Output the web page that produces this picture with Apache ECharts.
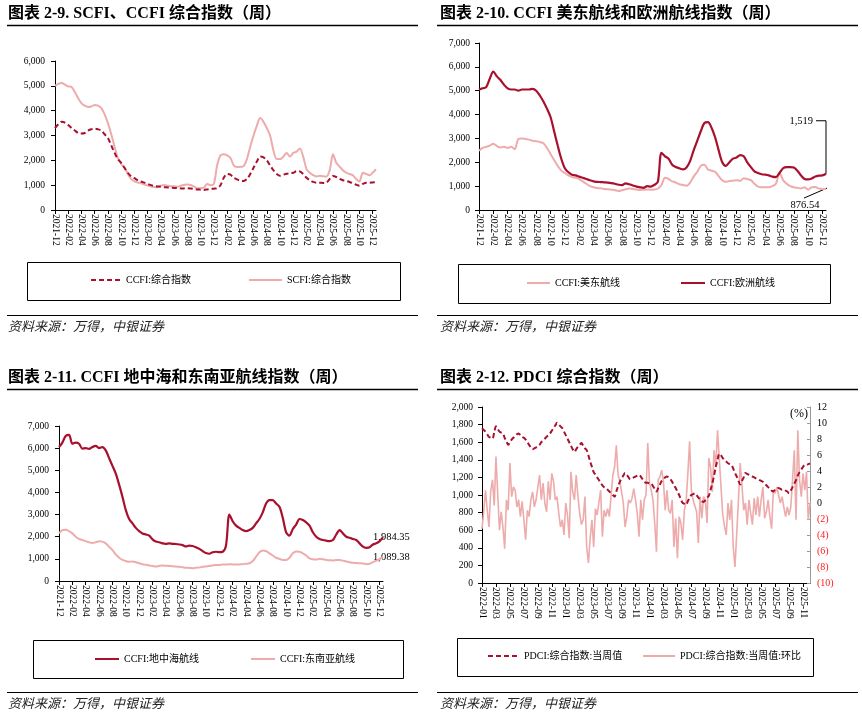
<!DOCTYPE html>
<html><head><meta charset="utf-8">
<script src="https://cdn.jsdelivr.net/npm/echarts@6/dist/echarts.min.js"></script>
<style>html,body{margin:0;padding:0;background:#fff;}#c{width:862px;height:715px;}</style>
</head><body><div id="c"></div>
<script>
const SERIF = '"Liberation Serif","Times New Roman","Noto Sans CJK SC",serif';
const DARK = '#A8102E', LIGHT = '#EEABAB';

function monthList(y0,m0,y1,m1){const r=[];let y=y0,m=m0;while(y<y1||(y===y1&&m<=m1)){r.push(y+'-'+String(m).padStart(2,'0'));m++;if(m>12){m=1;y++;}}return r;}
// categories: half-monthly for 2021-12..2025-12, weekly slots for PDCI
const semiMonthCats = [];
for (const mm of monthList(2021,12,2025,12)) semiMonthCats.push(mm+'-01', mm+'-16');
const pdciWeeks = [];
for (const mm of monthList(2022,1,2025,11)) for (const d of ['01','08','15','22']) pdciWeeks.push(mm+'-'+d);
pdciWeeks.push('2025-12-01');

// ---- chart 2-9 ----
const scfi = [5000,5080, 5110,5050, 4980,4950, 4750,4500, 4300,4200, 4150,4170, 4230,4200, 4100,3850, 3500,3050, 2550,2100, 1850,1700, 1450,1250, 1150,1110,
 1080,1030, 980,950, 930,920, 980,1010, 980,960, 960,940, 980,1010, 1030,1010, 950,880, 880,900, 1050,1000, 1050,1800,
 2200,2250, 2200,2100, 1800,1730, 1740,1770, 2050,2550, 3000,3400, 3700,3550, 3300,3000, 2400,2050, 2050,2150, 2300,2150, 2300,2350,
 2480,2150, 1650,1500, 1400,1350, 1380,1360, 1350,1600, 2240,1900, 1750,1600, 1500,1450, 1400,1250, 1150,1500, 1450,1400, 1500,1650];
const ccfi = [3300,3450, 3550,3520, 3420,3300, 3200,3100, 3080,3100, 3200,3250, 3270,3250, 3200,3050, 2900,2600, 2300,2050, 1900,1700, 1500,1350, 1280,1200,
 1150,1100, 1050,1000, 970,950, 940,920, 910,900, 890,880, 870,870, 880,870, 850,830, 820,810, 830,850, 860,880,
 1000,1300, 1450,1420, 1300,1230, 1180,1170, 1250,1450, 1700,1950, 2150,2120, 2000,1800, 1600,1450, 1380,1420, 1460,1480, 1500,1560,
 1550,1450, 1300,1200, 1130,1100, 1100,1090, 1100,1250, 1370,1330, 1250,1200, 1170,1130, 1080,1020, 980,1050, 1100,1100, 1110,1120];

// ---- chart 2-10 ----
const usEast = [2480,2600, 2650,2700, 2780,2680, 2620,2650, 2600,2650, 2550,2980, 3000,2980, 2950,2900, 2880,2850, 2800,2600, 2350,2100, 1850,1650, 1550,1450,
 1380,1350, 1300,1200, 1100,1000, 950,920, 910,880, 870,850, 830,800, 830,870, 900,880, 860,840, 850,860, 850,860,
 900,1050, 1350,1300, 1200,1150, 1080,1050, 1020,1150, 1400,1600, 1850,1900, 1700,1650, 1600,1420, 1250,1180, 1220,1230, 1250,1220,
 1330,1300, 1250,1100, 980,950, 950,950, 1000,1100, 1550,1250, 1100,1000, 950,930, 900,950, 850,950, 960,900, 880,876.54];
const europe = [5050,5100, 5150,5500, 5800,5600, 5450,5250, 5100,5050, 5050,5000, 5050,5050, 5050,5080, 5000,4800, 4550,4250, 3900,3300, 2700,2150, 1750,1580,
 1480,1450, 1400,1350, 1300,1250, 1200,1180, 1170,1160, 1150,1130, 1100,1060, 1040,1120, 1080,1030, 980,950, 930,1000, 980,1050,
 1180,2400, 2250,2150, 1900,1800, 1750,1700, 1780,2050, 2500,2900, 3300,3650, 3680,3450, 3050,2500, 2000,1850, 2000,2150, 2200,2300,
 2250,2000, 1800,1620, 1550,1500, 1480,1450, 1400,1380, 1550,1750, 1800,1800, 1780,1650, 1450,1300, 1280,1320, 1400,1440, 1450,1519];

// ---- chart 2-11 ----
const med = [6050,6250, 6550,6600, 6200,6250, 6200,5980, 6000,5970, 6050,6100, 6000,6050, 5900,5550, 5200,4850, 4350,3800, 3200,2800, 2600,2400, 2250,2150,
 2100,2050, 1880,1780, 1750,1700, 1680,1700, 1680,1670, 1650,1620, 1560,1600, 1580,1520, 1450,1350, 1260,1230, 1300,1320, 1300,1320,
 1600,3000, 2700,2500, 2400,2300, 2250,2300, 2400,2600, 2800,3100, 3500,3650, 3650,3500, 3350,2850, 2200,2050, 2350,2550, 2800,2750,
 2650,2500, 2200,2000, 1900,1850, 1820,1800, 1850,2100, 2300,2150, 2000,1950, 1900,1850, 1700,1550, 1500,1520, 1650,1700, 1800,1984.35];
const seAsia = [2150,2300, 2320,2250, 2150,2000, 1900,1850, 1800,1750, 1720,1750, 1800,1780, 1700,1550, 1400,1200, 1050,950, 900,870, 880,850, 800,760,
 730,700, 680,650, 680,700, 690,680, 670,650, 640,620, 600,590, 580,600, 610,640, 660,680, 700,720, 720,750,
 740,760, 750,740, 750,760, 780,800, 900,1100, 1300,1380, 1350,1250, 1150,1050, 1000,950, 950,1050, 1250,1330, 1320,1250,
 1150,1020, 980,970, 1000,980, 950,940, 930,950, 950,920, 880,850, 820,810, 800,790, 760,780, 850,920, 1000,1089.38];

// ---- chart 2-12 ----
const pdciIndex = [1760,1740,1720,1690,1660,1650,1640,1710,1780,1750,
 1720,1710,1700,1650,1610,1570,1600,1630,1650,1670,
 1690,1700,1680,1660,1650,1630,1600,1570,1540,1520,
 1530,1540,1550,1570,1600,1620,1640,1660,1680,1700,
 1730,1760,1790,1820,1800,1780,1760,1720,1680,1640,
 1600,1560,1520,1490,1520,1550,1570,1590,1560,1530,
 1510,1450,1380,1320,1260,1230,1200,1170,1140,1110,
 1090,1080,1060,1040,1020,1000,980,1040,1100,1150,
 1190,1220,1250,1230,1200,1180,1190,1200,1210,1220,
 1230,1210,1180,1150,1140,1140,1130,1130,1100,1070,
 1040,1080,1120,1160,1180,1200,1210,1200,1180,1150,
 1110,1080,1040,1000,950,910,900,890,930,970,
 1000,1010,1020,1000,970,950,930,920,940,970,
 990,1060,1130,1220,1320,1400,1470,1450,1420,1400,
 1380,1360,1350,1340,1300,1250,1210,1160,1120,1160,
 1200,1250,1240,1230,1220,1210,1200,1190,1180,1170,
 1160,1150,1130,1110,1090,1070,1050,1040,1060,1070,
 1080,1070,1060,1060,1050,1040,1020,1050,1090,1130,
 1170,1220,1260,1290,1320,1340,1340,1350,1360];
const pdciWoW = [-3.2,-1.0,1.6,-0.9,-3.0,1.5,2.9,-0.3,5.8,1.2,
 -3.4,-1.1,-3.0,-5.7,0.4,-0.9,5.0,0.8,2.0,1.6,
 -0.5,0.4,-1.7,0.2,-2.1,-4.6,-0.9,-1.7,0.4,1.4,
 -0.5,0.4,0.4,3.5,0.4,2.5,0,-1.1,2.7,0.4,
 3.7,2.7,0.4,0.8,-1.3,-3.0,-2.1,-4.0,0,-1.5,
 -4.4,3.9,1.4,0.4,3.5,0.8,-1.3,-2.7,-2.1,0.8,
 -5.5,-7.5,-4.4,-2.1,-5.5,-0.7,-1.5,-1.5,1.6,-4.2,
 -0.9,-1.7,-0.7,-1.7,-1.9,3.5,4.5,7.2,3.5,2.7,
 1.4,0,-3.0,-1.7,0.4,0,0.6,1.8,0.4,-1.3,
 -4.2,0.4,-2.1,0.4,1.0,7.5,2.5,1.6,0.4,-2.5,
 -6.1,2.9,3.3,4.1,2.7,-0.9,1.6,-0.9,-1.3,0.4,
 -5.5,-1.9,-6.9,-1.7,-2.5,-4.6,-0.9,0.2,3.7,7.7,
 1.6,0.4,0.4,-1.1,-5.0,0.8,-1.9,0.8,0.4,-2.5,
 5.6,4.5,1.4,6.6,4.5,9.1,9.1,2.0,-1.5,-2.9,
 -4.0,0,-2.1,0.4,-5.5,-8.0,-3.8,0.4,5.0,2.2,
 -0.9,0,-2.7,0.4,-1.3,-2.7,0.6,-1.5,0.8,-1.7,
 0.4,2.0,-1.9,-1.1,0.4,-1.7,-3.2,1.6,1.2,2.0,
 1.8,0,0.8,-0.5,-1.7,-0.5,-1.5,-0.5,2.9,6.6,
 -2.1,9.1,2.9,0.8,3.7,1.6,3.9,-2.1,0.0];

const fmtNum = v => v.toLocaleString('en-US',{maximumFractionDigits:2});

function catAxis(grid, data, step){
  return {type:'category', gridIndex:grid, data, boundaryGap:false,
    axisLine:{lineStyle:{color:'#000',width:1}},
    axisTick:{show:true, interval:(i)=>i%step===0, length:4, lineStyle:{color:'#000'}},
    axisLabel:{interval:(i)=>i%step===0, rotate:-90, margin:4, fontSize:9.5, color:'#000', fontFamily:SERIF, formatter:v=>v.slice(0,7)},
    splitLine:{show:false}};
}
function valAxis(grid, min, max, interval, margin){
  return {type:'value', gridIndex:grid, min, max, interval,
    axisLine:{show:true, lineStyle:{color:'#000'}},
    axisTick:{show:true, length:4, lineStyle:{color:'#000'}},
    axisLabel:{fontSize:9.5, color:'#000', fontFamily:SERIF, margin:margin, formatter:v=>v.toLocaleString('en-US')},
    splitLine:{show:false}};
}
function lineS(name, xi, yi, data, color, width, dashed, z, smooth){
  return {type:'line', name, xAxisIndex:xi, yAxisIndex:yi, data, symbol:'none', showSymbol:false, smooth:smooth, z,
    lineStyle:{color, width, type: dashed ? [5,3] : 'solid'}, itemStyle:{color}, emphasis:{disabled:true}, silent:true};
}
function leg(name, left, top, w){
  return {data:[name], left, top, itemWidth:w, itemHeight:12, padding:0, selectedMode:false,
    itemStyle:{opacity:0, borderWidth:0}, lineStyle:{opacity:1},
    textStyle:{fontSize:10, color:'#000', fontFamily:SERIF}};
}

const g = [];
function hline(x1,x2,y,w){ g.push({type:'line', shape:{x1,y1:y,x2,y2:y}, style:{stroke:'#000', lineWidth:w}, silent:true}); }
function txt(t,x,y,font,extra){ g.push({type:'text', x, y, style:Object.assign({text:t, font, fill:'#000', verticalAlign:'middle'}, extra||{}), silent:true}); }
function box(x,y,w,h){ g.push({type:'rect', shape:{x,y,width:w,height:h}, style:{fill:'none', stroke:'#000', lineWidth:1}, silent:true}); }

const TFONT = 'bold 16px "Liberation Serif","Noto Sans CJK SC",serif';
const SFONT = 'italic 13px "Noto Sans CJK SC",sans-serif';
txt('图表 2-9. SCFI、CCFI 综合指数（周）', 8, 14, TFONT);
txt('图表 2-10. CCFI 美东航线和欧洲航线指数（周）', 440, 14, TFONT);
txt('图表 2-11. CCFI 地中海和东南亚航线指数（周）', 8, 378, TFONT);
txt('图表 2-12. PDCI 综合指数（周）', 440, 378, TFONT);
hline(7,418,25.5,1.5); hline(437,858,25.5,1.5); hline(7,418,389.5,1.5); hline(437,858,389.5,1.5);
hline(7,418,315.5,1); hline(437,858,315.5,1); hline(7,418,692.5,1); hline(437,858,692.5,1);
txt('资料来源：万得，中银证券', 8, 326, SFONT, {fill:'#222'});
txt('资料来源：万得，中银证券', 440, 326, SFONT, {fill:'#222'});
txt('资料来源：万得，中银证券', 8, 703, SFONT, {fill:'#222'});
txt('资料来源：万得，中银证券', 440, 703, SFONT, {fill:'#222'});
box(27.5,262.5,373,38); box(458.5,264.5,372,39); box(33.5,640.5,370,38); box(457.5,638.5,356,38);
txt('(%)', 790, 414, '12px '+SERIF);

const chart = echarts.init(document.getElementById('c'), null, {renderer:'canvas'});
const rightAxis = {type:'value', gridIndex:3, position:'right', min:-10, max:12, interval:2,
  axisLine:{show:true, lineStyle:{color:'#999'}},
  axisTick:{show:true, inside:true, length:3, lineStyle:{color:'#999'}},
  axisLabel:{fontSize:10, color:'#000', fontFamily:SERIF, margin:7,
    formatter:v=> v<0 ? '{n|('+(-v)+')}' : String(v),
    rich:{n:{color:'#FF1A1A', fontSize:10, fontFamily:SERIF}}},
  splitLine:{show:false}};

chart.setOption({
  animation:false,
  textStyle:{fontFamily:SERIF},
  grid:[
    {left:55, top:61, width:321, height:149},
    {left:479, top:43, width:347, height:167},
    {left:59, top:426, width:324, height:155},
    {left:482, top:407, width:328, height:176}
  ],
  xAxis:[catAxis(0, semiMonthCats, 4), catAxis(1, semiMonthCats, 4), catAxis(2, semiMonthCats, 4), catAxis(3, pdciWeeks, 8)],
  yAxis:[valAxis(0,0,6000,1000,10), valAxis(1,0,7000,1000,9), valAxis(2,0,7000,1000,10), valAxis(3,0,2000,200,9), rightAxis],
  legend:[
    leg('CCFI:综合指数', 90, 275, 30), leg('SCFI:综合指数', 248, 275, 33),
    leg('CCFI:美东航线', 526, 278, 23), leg('CCFI:欧洲航线', 680, 278, 24),
    leg('CCFI:地中海航线', 94, 654, 24), leg('CCFI:东南亚航线', 250, 654, 24),
    leg('PDCI:综合指数:当周值', 487, 651, 31), leg('PDCI:综合指数:当周值:环比', 642, 651, 32)
  ],
  series:[
    lineS('SCFI:综合指数', 0, 0, scfi, LIGHT, 2, false, 2, 0.3),
    lineS('CCFI:综合指数', 0, 0, ccfi, DARK, 2, true, 3, 0.3),
    lineS('CCFI:美东航线', 1, 1, usEast, LIGHT, 2, false, 2, 0.3),
    lineS('CCFI:欧洲航线', 1, 1, europe, DARK, 2.2, false, 3, 0.3),
    lineS('CCFI:地中海航线', 2, 2, med, DARK, 2.2, false, 3, 0.3),
    lineS('CCFI:东南亚航线', 2, 2, seAsia, LIGHT, 2, false, 2, 0.3),
    lineS('PDCI:综合指数:当周值:环比', 3, 4, pdciWoW, LIGHT, 1.6, false, 2, false),
    lineS('PDCI:综合指数:当周值', 3, 3, pdciIndex, DARK, 2, true, 3, 0.3)
  ],
  graphic: g
});

// end-value annotations, positioned from the data through the axes
const last = semiMonthCats.length - 1;
const AFONT = '10.5px ' + SERIF;
const pE = chart.convertToPixel({xAxisIndex:1, yAxisIndex:1}, [semiMonthCats[last], europe[last]]);
const pU = chart.convertToPixel({xAxisIndex:1, yAxisIndex:1}, [semiMonthCats[last], usEast[last]]);
const pM = chart.convertToPixel({xAxisIndex:2, yAxisIndex:2}, [semiMonthCats[last], med[last]]);
const pS = chart.convertToPixel({xAxisIndex:2, yAxisIndex:2}, [semiMonthCats[last], seAsia[last]]);
const extra = [
  {type:'polyline', shape:{points:[[pE[0]-10, pE[1]-53],[pE[0], pE[1]-53],[pE[0], pE[1]]]}, style:{stroke:'#000', lineWidth:1, fill:null}, silent:true},
  {type:'text', x:pE[0]-13, y:pE[1]-53, style:{text:fmtNum(europe[last]), font:AFONT, fill:'#000', align:'right', verticalAlign:'middle'}, silent:true},
  {type:'line', shape:{x1:pU[0]-22, y1:pU[1]+9, x2:pU[0]+1, y2:pU[1]-1}, style:{stroke:'#000', lineWidth:1}, silent:true},
  {type:'text', x:pU[0]-21, y:pU[1]+16, style:{text:fmtNum(usEast[last]), font:AFONT, fill:'#000', align:'center', verticalAlign:'middle'}, silent:true},
  {type:'text', x:pM[0]-10, y:pM[1], style:{text:fmtNum(med[last]), font:AFONT, fill:'#000', align:'left', verticalAlign:'middle'}, silent:true},
  {type:'text', x:pS[0]-10, y:pS[1], style:{text:fmtNum(seAsia[last]), font:AFONT, fill:'#000', align:'left', verticalAlign:'middle'}, silent:true}
];
chart.setOption({graphic: g.concat(extra)});
</script>
</body></html>
